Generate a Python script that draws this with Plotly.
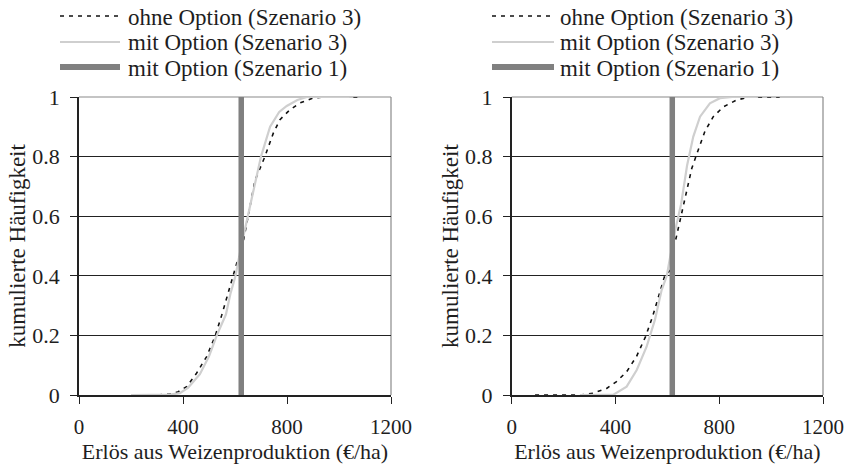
import plotly.graph_objects as go

# ---------------- data ----------------
legend_labels = ["ohne Option (Szenario 3)", "mit Option (Szenario 3)", "mit Option (Szenario 1)"]
x_ticks = [0, 400, 800, 1200]
y_ticks = [0, 0.2, 0.4, 0.6, 0.8, 1]
y_ticklabels = ["0", "0.2", "0.4", "0.6", "0.8", "1"]
x_title = "Erlös aus Weizenproduktion (€/ha)"
y_title = "kumulierte Häufigkeit"

# left panel
left_ohne_x = [200, 300, 350, 382, 414, 452, 491, 523, 549, 590, 606, 624, 640, 655, 677, 715, 747, 773, 811, 850, 901, 950, 1075]
left_ohne_y = [0, 0, 0.003, 0.011, 0.028, 0.073, 0.129, 0.196, 0.268, 0.397, 0.44, 0.48, 0.55, 0.62, 0.72, 0.80, 0.878, 0.924, 0.957, 0.98, 0.997, 1.0, 1.0]
left_mit3_x = [200, 350, 388, 420, 465, 500, 530, 565, 583, 602, 624, 649, 675, 700, 735, 770, 799, 840, 876, 1040]
left_mit3_y = [0, 0.001, 0.006, 0.025, 0.07, 0.13, 0.2, 0.27, 0.342, 0.40, 0.5, 0.6, 0.7, 0.8, 0.9, 0.95, 0.97, 0.99, 1.0, 1.0]
left_mit1_x = [624, 624]
left_mit1_y = [0, 1]

# right panel
right_ohne_x = [90, 263, 314, 366, 404, 443, 481, 516, 542, 571, 590, 619, 619, 632, 653, 668, 694, 712, 745, 777, 816, 867, 918, 1033]
right_ohne_y = [0, 0, 0.006, 0.022, 0.045, 0.078, 0.129, 0.196, 0.26, 0.345, 0.40, 0.425, 0.505, 0.52, 0.6, 0.66, 0.76, 0.805, 0.885, 0.934, 0.967, 0.99, 1.0, 1.0]
right_mit3_x = [263, 392, 443, 482, 520, 552, 578, 598, 608, 619, 632, 653, 676, 700, 726, 764, 803, 850, 944]
right_mit3_y = [0, 0.001, 0.028, 0.084, 0.162, 0.252, 0.352, 0.4, 0.45, 0.5, 0.56, 0.64, 0.77, 0.867, 0.934, 0.979, 0.996, 1.0, 1.0]
right_mit1_x = [619, 619]
right_mit1_y = [0, 1]

# ---------------- style ----------------
W, H = 852, 464
FONT = "Liberation Serif"
TXT = "#1e1e1e"
DASH_STYLE = dict(color="#111111", width=1.6, dash="4px,5px")
LIGHT_STYLE = dict(color="#cfcfcf", width=2.2)
THICK_STYLE = dict(color="#808080", width=5.5)

fig = go.Figure()

panels = [
    ("x", "y", left_ohne_x, left_ohne_y, left_mit3_x, left_mit3_y, left_mit1_x, left_mit1_y),
    ("x2", "y2", right_ohne_x, right_ohne_y, right_mit3_x, right_mit3_y, right_mit1_x, right_mit1_y),
]
for xa, ya, ox, oy, m3x, m3y, m1x, m1y in panels:
    fig.add_trace(go.Scatter(x=ox, y=oy, mode="lines", line=DASH_STYLE, name=legend_labels[0],
                             xaxis=xa, yaxis=ya, showlegend=False, hoverinfo="skip"))
    fig.add_trace(go.Scatter(x=m3x, y=m3y, mode="lines", line=LIGHT_STYLE, name=legend_labels[1],
                             xaxis=xa, yaxis=ya, showlegend=False, hoverinfo="skip"))
    fig.add_trace(go.Scatter(x=m1x, y=m1y, mode="lines", line=THICK_STYLE, name=legend_labels[2],
                             xaxis=xa, yaxis=ya, showlegend=False, hoverinfo="skip"))

ydom = [1 - 395 / H, 1 - 97 / H]
xdoms = [[79 / W, 391 / W], [511.7 / W, 823 / W]]

def xaxis_cfg(dom, anchor):
    return dict(domain=dom, anchor=anchor, range=[0, 1200], tickvals=x_ticks,
                ticktext=[str(v) for v in x_ticks], showgrid=False, zeroline=False,
                showline=True, linecolor="#222222", linewidth=1.5,
                ticks="outside", ticklen=7, tickcolor="#222222", tickwidth=1.2,
                ticklabelstandoff=5,
                tickfont=dict(family=FONT, size=21, color=TXT),
                title=dict(text=x_title, font=dict(family=FONT, size=22, color=TXT), standoff=3),
                fixedrange=True)

def yaxis_cfg(anchor):
    return dict(domain=ydom, anchor=anchor, range=[0, 1], tickvals=y_ticks,
                ticktext=y_ticklabels,
                showgrid=True, gridcolor="#222222", gridwidth=1, zeroline=False,
                showline=True, linecolor="#222222", linewidth=1.5,
                ticks="outside", ticklen=7, tickcolor="#222222", tickwidth=1.2,
                ticklabelstandoff=6,
                tickfont=dict(family=FONT, size=22, color=TXT),
                title=dict(text=y_title, font=dict(family=FONT, size=23, color=TXT), standoff=0),
                fixedrange=True)

fig.update_layout(
    width=W, height=H,
    margin=dict(l=0, r=0, t=0, b=0, autoexpand=False),
    paper_bgcolor="white", plot_bgcolor="white",
    showlegend=False,
    xaxis=xaxis_cfg(xdoms[0], "y"),
    yaxis=yaxis_cfg("x"),
    xaxis2=xaxis_cfg(xdoms[1], "y2"),
    yaxis2=yaxis_cfg("x2"),
)

# grey frame on top and right of each plot area
for xr, yr in [("x domain", "y domain"), ("x2 domain", "y2 domain")]:
    fig.add_shape(type="line", xref=xr, yref=yr, x0=0, x1=1, y0=1, y1=1,
                  line=dict(color="#8a8a8a", width=1.2), layer="below")
    fig.add_shape(type="line", xref=xr, yref=yr, x0=1, x1=1, y0=0, y1=1,
                  line=dict(color="#8a8a8a", width=1.2), layer="below")

# legends (one per panel), drawn above each plot
legend_styles = [DASH_STYLE, LIGHT_STYLE, dict(color="#808080", width=6)]
legend_rows_y = [16, 42, 67]
legend_line_x = [(60, 120, 126), (492, 554, 558)]
for (lx0, lx1, tx) in legend_line_x:
    for label, style, ry in zip(legend_labels, legend_styles, legend_rows_y):
        fig.add_shape(type="line", xref="paper", yref="paper",
                      x0=lx0 / W, x1=lx1 / W, y0=1 - ry / H, y1=1 - ry / H, line=style)
        fig.add_annotation(text=label, xref="paper", yref="paper", x=tx / W, y=1 - (ry + 1) / H,
                           xanchor="left", yanchor="middle", showarrow=False,
                           font=dict(family=FONT, size=23, color=TXT))

fig.write_html("out.html", config={"displayModeBar": False},
               post_script="document.body.style.margin='0';")
